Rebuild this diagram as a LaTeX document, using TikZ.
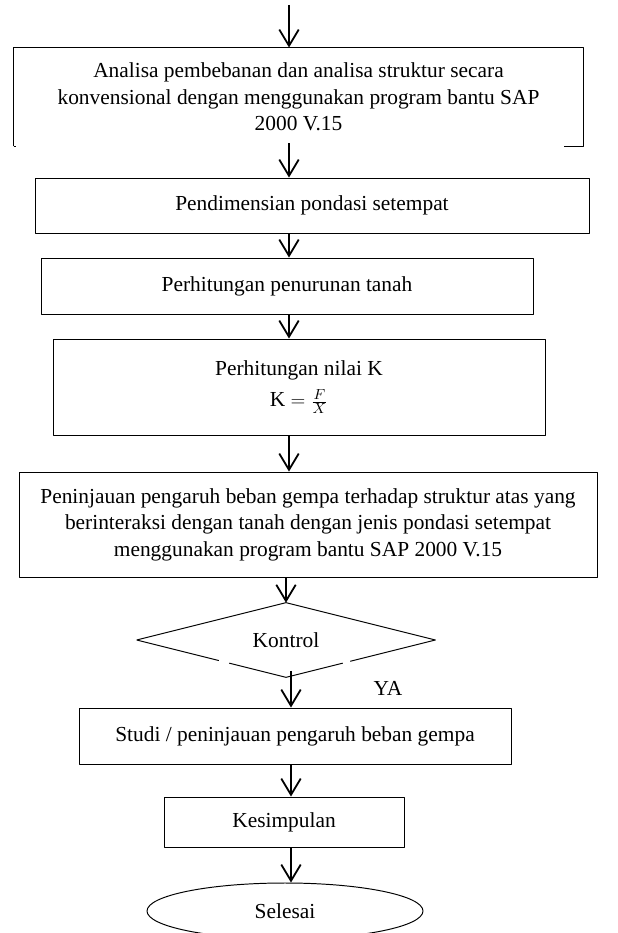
\documentclass[tikz,border=0pt]{standalone}
\usepackage{fontspec}
\setmainfont{Liberation Serif}
\usetikzlibrary{arrows.meta,shapes.geometric,calc}
\tikzset{
  box/.style={draw, line width=0.6pt, inner sep=0pt, align=center},
  flow/.style={-{Straight Barb[length=10pt,width=12pt]}, line width=1.1pt},
}
\begin{document}
\begin{tikzpicture}[x=0.617pt, y=-0.617pt, font=\fontsize{13.2}{16.4}\selectfont, line join=round]
  \def\pu{0.617}
  \useasboundingbox (0,0) rectangle (617,933);
  % axes of the arrows
  \coordinate (start) at (289,5);
  \coordinate (ax) at (289,0);
  \coordinate (ay) at (291,0);
  % boxes
  \node[box, draw=none, minimum width=569*\pu pt, minimum height=98*\pu pt] (analisa) at (298.5,97)
    {Analisa pembebanan dan analisa struktur secara\\
     konvensional dengan menggunakan program bantu SAP\\
     2000 V.15};
  \node[box, minimum width=554*\pu pt, minimum height=55*\pu pt] (dimensi) at (312,205.5)
    {Pendimensian pondasi setempat};
  \node[box, minimum width=492*\pu pt, minimum height=56*\pu pt] (turun) at (287,286)
    {Perhitungan penurunan tanah};
  \node[box, minimum width=492*\pu pt, minimum height=96*\pu pt] (nilaik) at (299,387)
    {Perhitungan nilai K\\[3pt] K $=\frac{F}{X}$};
  \node[box, minimum width=578*\pu pt, minimum height=105*\pu pt] (tinjau) at (308,524.5)
    {Peninjauan pengaruh beban gempa terhadap struktur atas yang\\
     berinteraksi dengan tanah dengan jenis pondasi setempat\\
     menggunakan program bantu SAP 2000 V.15};
  \node[diamond, aspect=4, inner sep=0pt, minimum width=298*\pu pt, minimum height=74*\pu pt] (kontrol) at (286,640)
    {\raisebox{-3pt}{Kontrol}};
  \node[box, minimum width=432*\pu pt, minimum height=56*\pu pt] (studi) at (295,736)
    {Studi / peninjauan pengaruh beban gempa};
  \node[box, minimum width=240*\pu pt, minimum height=50*\pu pt] (simpul) at (284,822)
    {Kesimpulan};
  \node[ellipse, draw, line width=0.6pt, inner sep=0pt, minimum width=276*\pu pt, minimum height=56*\pu pt] (selesai) at (285,911)
    {Selesai};
  \node (ya) at (388,688) {YA};
  % open outlines
  \draw[line width=0.6pt] (analisa.south west) -- (analisa.north west) -- (analisa.north east)
    -- (analisa.south east) -- ++(-19,0);
  \draw[line width=0.6pt] (analisa.south west) -- ++(2,0);
  \draw[line width=0.6pt] (kontrol.west) -- (kontrol.north) -- (kontrol.east)
    -- ($(kontrol.east)!0.57!(kontrol.south)$)
    ($(kontrol.east)!0.62!(kontrol.south)$) -- (kontrol.south)
    -- ($(kontrol.south)!0.38!(kontrol.west)$)
    ($(kontrol.south)!0.45!(kontrol.west)$) -- (kontrol.west);
  % arrows
  \draw[flow] (start) -- (analisa.north -| start);
  \draw[flow] ([yshift=2pt]analisa.south -| ax) -- (dimensi.north -| ax);
  \draw[flow] (dimensi.south -| ax) -- (turun.north -| ax);
  \draw[flow] (turun.south -| ax) -- (nilaik.north -| ax);
  \draw[flow] (nilaik.south -| ax) -- (tinjau.north -| ax);
  \draw[flow] (tinjau.south -| kontrol.north) -- (kontrol.north);
  \draw[flow] ([yshift=4pt]kontrol.south -| ay) -- (studi.north -| ay);
  \draw[flow] (studi.south -| ay) -- (simpul.north -| ay);
  \draw[flow] (simpul.south -| ay) -- (selesai.north -| ay);
\end{tikzpicture}
\end{document}
